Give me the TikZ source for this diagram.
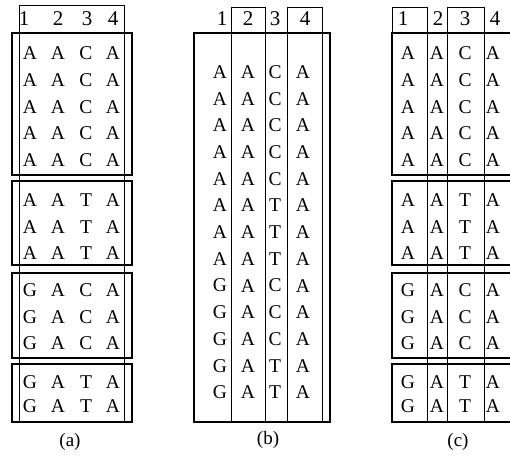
\documentclass[tikz,border=0pt]{standalone}
\usepackage{fontspec}
\setmainfont{Liberation Serif}
\begin{document}
\begin{tikzpicture}[x=1pt,y=-1pt,
  thickbox/.style={line width=2.4pt},
  thinline/.style={line width=0.8pt},
  letter/.style={font=\fontsize{19.5}{19.5}\selectfont, inner sep=0pt, anchor=center},
  digit/.style={font=\fontsize{21}{21}\selectfont, inner sep=0pt, anchor=center},
  caption/.style={font=\fontsize{19}{19}\selectfont, inner sep=0pt, anchor=center}]
\clip (0,0) rectangle (510,461);
\useasboundingbox (0,0) rectangle (510,461);
% ---------- panel (a)
\draw[thinline] (19,5) rectangle (124,33);
\draw[thinline] (19,5) -- (19,422);
\draw[thinline] (124,5) -- (124,422);
\foreach \t/\b in {33/175,181/265,273/358,364/422}
  \draw[thickbox] (12,\t) rectangle (132,\b);
\foreach \d/\x in {1/24,2/58,3/87,4/113}
  \node[digit] (ah\d) at (\x,19) {\d};
% ---------- panel (b)
\draw[thinline] (231,7) rectangle (265,33);
\draw[thinline] (287,7) rectangle (322,33);
\foreach \x in {231,265,287,322}
  \draw[thinline] (\x,7) -- (\x,422);
\draw[thickbox] (194,33) rectangle (330,422);
\foreach \d/\x in {1/222,2/248,3/275,4/305}
  \node[digit] (bh\d) at (\x,19) {\d};
% ---------- panel (c)
\draw[thinline] (392,7) rectangle (427,33);
\draw[thinline] (447,7) rectangle (484,33);
\foreach \x in {427,447,484}
  \draw[thinline] (\x,7) -- (\x,422);
\foreach \t/\b in {33/175,181/265,273/358,364/422}
  \draw[thickbox] (392,\t) rectangle (530,\b);
\foreach \d/\x in {1/403,2/438,3/465,4/495}
  \node[digit] (ch\d) at (\x,19) {\d};
% ---------- letters (a) and (c)
\foreach \y/\p/\q/\r/\s [count=\i] in {53/A/A/C/A,80/A/A/C/A,107/A/A/C/A,133/A/A/C/A,160/A/A/C/A,
  200/A/A/T/A,227/A/A/T/A,253/A/A/T/A,
  290/G/A/C/A,317/G/A/C/A,343/G/A/C/A,
  382/G/A/T/A,406/G/A/T/A}{
  \node[letter] (a\i p) at (30,\y) {\p};
  \node[letter] (a\i q) at (58,\y) {\q};
  \node[letter] (a\i r) at (86,\y) {\r};
  \node[letter] (a\i s) at (113,\y) {\s};
  \node[letter] (c\i p) at (408,\y) {\p};
  \node[letter] (c\i q) at (437,\y) {\q};
  \node[letter] (c\i r) at (465,\y) {\r};
  \node[letter] (c\i s) at (493,\y) {\s};
}
% ---------- letters (b)
\foreach \p/\q/\r/\s [count=\i from 0] in {A/A/C/A,A/A/C/A,A/A/C/A,A/A/C/A,A/A/C/A,
  A/A/T/A,A/A/T/A,A/A/T/A,G/A/C/A,G/A/C/A,G/A/C/A,G/A/T/A,G/A/T/A}{
  \pgfmathsetmacro{\yy}{72+26.7*\i}
  \node[letter] (b\i p) at (220,\yy) {\p};
  \node[letter] (b\i q) at (248,\yy) {\q};
  \node[letter] (b\i r) at (275,\yy) {\r};
  \node[letter] (b\i s) at (303,\yy) {\s};
}
% ---------- captions
\node[caption] (capa) at (70,442) {(a)};
\node[caption] (capb) at (268,440) {(b)};
\node[caption] (capc) at (458,442) {(c)};
\end{tikzpicture}
\end{document}
